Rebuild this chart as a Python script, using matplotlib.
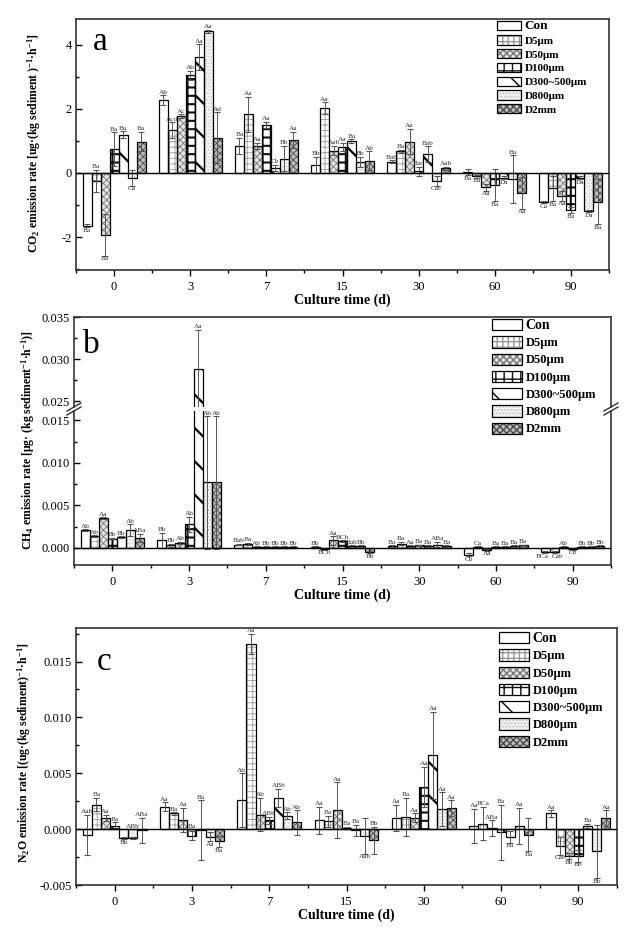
import numpy as np
import matplotlib
matplotlib.use("Agg")
import matplotlib.pyplot as plt
from matplotlib.ticker import AutoMinorLocator, MultipleLocator, FormatStrFormatter
from matplotlib.legend_handler import HandlerTuple

plt.rcParams['font.family'] = 'Liberation Serif'
plt.rcParams['mathtext.default'] = 'regular'
plt.rcParams['axes.unicode_minus'] = False

days = ['0', '3', '7', '15', '30', '60', '90']
treatments = ['Con', 'D5μm', 'D50μm', 'D100μm', 'D300~500μm', 'D800μm', 'D2mm']

# rows = culture day, columns = treatment
co2_mean = [
    [-1.65, -0.25, -1.93, 0.75, 1.20, -0.15, 0.98],
    [2.28, 1.33, 1.78, 3.05, 3.62, 4.42, 1.10],
    [0.85, 1.83, 0.85, 1.50, 0.15, 0.45, 1.03],
    [0.25, 2.03, 0.70, 0.82, 1.00, 0.35, 0.38],
    [0.35, 0.68, 0.98, 0.05, 0.58, -0.25, 0.15],
    [0.03, -0.10, -0.45, -0.38, -0.15, -0.20, -0.62],
    [-0.92, -0.48, -0.72, -1.15, -0.15, -1.20, -0.90],
]
co2_err = [
    [0.05, 0.35, 0.65, 0.52, 0.10, 0.25, 0.30],
    [0.15, 0.25, 0.05, 0.15, 0.40, 0.05, 0.80],
    [0.25, 0.55, 0.10, 0.10, 0.10, 0.40, 0.25],
    [0.25, 0.18, 0.15, 0.12, 0.05, 0.15, 0.30],
    [0.05, 0.05, 0.40, 0.15, 0.25, 0.15, 0.05],
    [0.10, 0.05, 0.10, 0.50, 0.05, 0.75, 0.50],
    [0.03, 0.40, 0.15, 0.10, 0.05, 0.03, 0.70],
]
co2_lab = [
    ['Ba', 'Ba', 'Ba', 'Ba', 'Ba', 'Ca', 'Ba'],
    ['Ab', 'Acd', 'Ac', 'Ab', 'Aa', 'Aa', 'Ad'],
    ['Ba', 'Aa', 'Aa', 'Aa', 'Cb', 'Bb', 'Aa'],
    ['Bb', 'Aa', 'Aab', 'Aa', 'Ba', 'Bb', 'Ab'],
    ['Bab', 'Ba', 'Aa', 'Bac', 'Bab', 'Cac', 'Aab'],
    ['Ba', 'Ba', 'Aa', 'Ba', 'Da', 'Ba', 'Aa'],
    ['Ca', 'Ba', 'Aa', 'Ba', 'Da', 'Da', 'Ba'],
]
co2_flip = [(0, 1), (5, 0), (5, 5)]

ch4_mean = [
    [0.0021, 0.0014, 0.0035, 0.0011, 0.0013, 0.0021, 0.0012],
    [0.0009, 0.0003, 0.0006, 0.0028, 0.0288, 0.0077, 0.0077],
    [0.0004, 0.0005, 0.0001, 0.0001, 0.0001, 0.0001, 0.0001],
    [0.0001, -0.0001, 0.0009, 0.0008, 0.0002, 0.0002, -0.0005],
    [0.0002, 0.0005, 0.0002, 0.0003, 0.0002, 0.0004, 0.0002],
    [-0.0008, 0.0001, -0.0002, 0.0001, 0.0001, 0.0002, 0.0003],
    [-0.0005, -0.0005, 0.0001, -0.0001, 0.0001, 0.0001, 0.0002],
]
ch4_err = [
    [0.0001, 0.0001, 0.0001, 0.0001, 0.0001, 0.0007, 0.0005],
    [0.0009, 0.0002, 0.0001, 0.0009, 0.0047, 0.0078, 0.0078],
    [0.0001, 0.0001, 0.0001, 0.0001, 0.0001, 0.0001, 0.0001],
    [0.0001, 0.0001, 0.0005, 0.0001, 0.0001, 0.0001, 0.0001],
    [0.0001, 0.0002, 0.0001, 0.0001, 0.0001, 0.0003, 0.0001],
    [0.0002, 0.0001, 0.0001, 0.0001, 0.0001, 0.0001, 0.0001],
    [0.0001, 0.0001, 0.0001, 0.0001, 0.0001, 0.0001, 0.0001],
]
ch4_lab = [
    ['Ab', 'Ab', 'Aa', 'Bb', 'Bb', 'Ab', 'ABa'],
    ['Bb', 'Bb', 'Ab', 'Ab', 'Aa', 'Ab', 'Ab'],
    ['Bab', 'Ba', 'Ab', 'Bb', 'Bb', 'Bb', 'Bb'],
    ['Bb', 'BCb', 'Aa', 'BCb', 'Bab', 'Bb', 'Bb'],
    ['Ba', 'Ba', 'Aa', 'Ba', 'Ba', 'ABa', 'Ba'],
    ['Cb', 'Ca', 'Aa', 'Ba', 'Ba', 'Ba', 'Ba'],
    ['BCa', 'Cab', 'Ab', 'Cb', 'Bb', 'Bb', 'Bb'],
]
ch4_flip = []

n2o_mean = [
    [-0.0005, 0.0022, 0.0010, 0.0003, -0.0008, -0.0008, -0.0001],
    [0.0020, 0.0014, 0.0008, -0.0006, -0.0001, -0.0007, -0.0011],
    [0.0026, 0.0166, 0.0013, 0.0008, 0.0028, 0.0012, 0.0006],
    [0.0008, 0.0007, 0.0017, 0.0001, -0.0001, -0.0006, -0.0010],
    [0.0010, 0.0011, 0.0010, 0.0038, 0.0066, 0.0018, 0.0019],
    [0.0003, 0.0005, 0.0001, -0.0003, -0.0007, 0.0003, -0.0005],
    [0.0014, -0.0015, -0.0024, -0.0024, 0.0003, -0.0020, 0.0010],
]
n2o_err = [
    [0.0018, 0.0006, 0.0003, 0.0003, 0.0001, 0.0001, 0.0011],
    [0.0004, 0.0001, 0.0011, 0.0004, 0.0027, 0.0004, 0.0005],
    [0.0024, 0.0009, 0.0015, 0.0003, 0.0008, 0.0003, 0.0011],
    [0.0012, 0.0005, 0.0025, 0.0001, 0.0005, 0.0016, 0.0012],
    [0.0012, 0.0017, 0.0004, 0.0018, 0.0039, 0.0015, 0.0007],
    [0.0015, 0.0015, 0.0007, 0.0025, 0.0005, 0.0016, 0.0015],
    [0.0003, 0.0008, 0.0003, 0.0005, 0.0002, 0.0024, 0.0007],
]
n2o_lab = [
    ['Aab', 'Ba', 'Aa', 'Ba', 'Bb', 'ABb', 'ABa'],
    ['Aa', 'Ba', 'Aa', 'Ba', 'Ba', 'Aa', 'Ba'],
    ['Ab', 'Aa', 'Ab', 'ABb', 'ABb', 'Ab', 'Ab'],
    ['Aa', 'Ba', 'Aa', 'Ba', 'Ba', 'Aab', 'Bb'],
    ['Aa', 'Ba', 'Aa', 'Aa', 'Aa', 'Aa', 'Aa'],
    ['Aa', 'BCa', 'ABa', 'Ba', 'Ba', 'Aa', 'Ba'],
    ['Aa', 'Cab', 'Bb', 'Bb', 'Ba', 'Bb', 'Aa'],
]
n2o_flip = [(0, 0), (0, 5), (0, 6), (1, 3), (1, 4), (3, 4), (3, 6), (5, 3)]

W, H = 641, 944
BAR_W = 0.118

# face colour, hatch colour, hatch, hatch linewidth
styles = [
    ('white', 'white', None, 0.6),
    ('white', '#9a9a9a', '+++', 0.6),
    ('#e4e4e4', '#777777', 'xxxxx', 0.6),
    ('white', '#111111', '++', 1.5),
    ('white', 'black', '\\', 1.6),
    ('#f3f3f3', '#c4c4c4', '.....', 0.5),
    ('#bdbdbd', '#4a4a4a', 'xxxxx', 0.6),
]

fig = plt.figure(figsize=(W / 100, H / 100), dpi=100)


def add_ax(left, top, right, bottom):
    return fig.add_axes([left / W, 1 - bottom / H, (right - left) / W, (bottom - top) / H])


def draw_bars(ax, mean, err):
    handles = []
    x0 = np.arange(len(days))
    for j in range(len(treatments)):
        xs = x0 + (j - 3) * BAR_W
        vals = [row[j] for row in mean]
        errs = [row[j] for row in err]
        face, hcol, hatch, hlw = styles[j]
        with plt.rc_context({'hatch.linewidth': hlw}):
            fill = ax.bar(xs, vals, BAR_W, color=face, edgecolor=hcol,
                          hatch=hatch, linewidth=0, zorder=2)
        edge = ax.bar(xs, vals, BAR_W, fill=False, edgecolor='black',
                      linewidth=0.9, zorder=3)
        ax.errorbar(xs, vals, yerr=errs, fmt='none', ecolor='#555555',
                    elinewidth=0.7, capsize=2, capthick=0.8, zorder=4)
        handles.append((fill, edge))
    ax.axhline(0, color='black', lw=1.0, zorder=5)
    return handles


def draw_letters(ax, mean, err, labels, flips, keep=None, nudge=None):
    nudge = nudge or {}
    for i in range(len(days)):
        for j in range(len(treatments)):
            v, e = mean[i][j], err[i][j]
            up = (v >= 0) != ((i, j) in flips)
            if up:
                y, va, dy = max(v + e, 0), 'bottom', 0.4
            else:
                y, va, dy = min(v - e, 0), 'top', -0.4
            if keep is not None and not keep(y):
                continue
            ax.annotate(labels[i][j], (i + (j - 3) * BAR_W, y),
                        xytext=(nudge.get((i, j), 0), dy),
                        textcoords='offset points', ha='center', va=va,
                        fontsize=5.2, color='#333333', zorder=6)


def style_ax(ax, show_x=True):
    ax.set_xlim(-0.5, 6.5)
    ax.set_xticks(range(len(days)))
    ax.xaxis.set_minor_locator(MultipleLocator(0.5))
    ax.yaxis.set_minor_locator(AutoMinorLocator(2))
    ax.tick_params(axis='x', which='major', direction='out', length=4, width=1,
                   labelsize=9, pad=4)
    ax.tick_params(axis='x', which='minor', direction='out', length=2.5, width=1)
    ax.tick_params(axis='y', which='major', direction='in', length=4, width=1,
                   labelsize=9, pad=3)
    ax.tick_params(axis='y', which='minor', direction='in', length=2.5, width=1)
    if show_x:
        ax.set_xticklabels(days)
        ax.set_xlabel('Culture time (d)', fontsize=10, fontweight='bold', labelpad=0)
    else:
        ax.tick_params(axis='x', which='both', bottom=False, labelbottom=False)
    for s in ax.spines.values():
        s.set_linewidth(1.2)
        s.set_color('#333333')


def add_legend(handles, x, y, size, con_size, spacing, hl, hh):
    leg = fig.legend(handles, treatments,
                     handler_map={tuple: HandlerTuple(ndivide=1, pad=0)},
                     loc='upper left', bbox_to_anchor=(x / W, 1 - y / H),
                     frameon=False, prop={'weight': 'bold', 'size': size},
                     handlelength=hl, handleheight=hh, handletextpad=0.3,
                     labelspacing=spacing, borderpad=0, borderaxespad=0)
    leg.get_texts()[0].set_fontsize(con_size)


# ---- a: CO2 ----
ax_a = add_ax(76, 19, 609, 270)
h = draw_bars(ax_a, co2_mean, co2_err)
draw_letters(ax_a, co2_mean, co2_err, co2_lab, co2_flip)
ax_a.set_ylim(-3.03, 4.81)
ax_a.set_yticks([-2, 0, 2, 4])
style_ax(ax_a)
add_legend(h, 497, 20, 8, 9.5, 0.3, 2.2, 0.9)
fig.text(93 / W, 1 - 50 / H, 'a', fontsize=24, va='baseline')
fig.text(34 / W, 1 - 143 / H,
         'CO$_2$ emission rate [ug·(kg sediment )$^{-1}$·h$^{-1}$]',
         rotation=90, ha='center', va='center', fontsize=8.5, fontweight='bold')

# ---- b: CH4 (broken axis) ----
ax_bu = add_ax(74, 317, 611, 407)
ax_bl = add_ax(74, 411, 611, 565)
h = draw_bars(ax_bu, ch4_mean, ch4_err)
draw_bars(ax_bl, ch4_mean, ch4_err)
draw_letters(ax_bu, ch4_mean, ch4_err, ch4_lab, ch4_flip, keep=lambda y: y > 0.02)
draw_letters(ax_bl, ch4_mean, ch4_err, ch4_lab, ch4_flip, keep=lambda y: y <= 0.02,
             nudge={(6, 0): -2.5, (6, 1): 2.5})
ax_bu.set_ylim(0.0243, 0.035)
ax_bu.set_yticks([0.025, 0.030, 0.035])
ax_bl.set_ylim(-0.002, 0.0161)
ax_bl.set_yticks([0.0, 0.005, 0.010, 0.015])
style_ax(ax_bu, show_x=False)
style_ax(ax_bl)
for a_ in (ax_bu, ax_bl):
    a_.yaxis.set_major_formatter(FormatStrFormatter('%.3f'))
ax_bu.spines['bottom'].set_visible(False)
ax_bl.spines['top'].set_visible(False)
for xp in (74, 611):
    for yp in (407, 411):
        fig.add_artist(plt.Line2D([(xp - 7) / W, (xp + 7) / W],
                                  [1 - (yp + 4) / H, 1 - (yp - 4) / H],
                                  color='#333333', lw=1.0))
add_legend(h, 492, 319, 9, 10, 0.35, 2.4, 1.0)
fig.text(83 / W, 1 - 353 / H, 'b', fontsize=24, va='baseline')
fig.text(28 / W, 1 - 440 / H,
         'CH$_4$ emission rate [μg· (kg sediment$^{-1}$·h$^{-1}$)]',
         rotation=90, ha='center', va='center', fontsize=8.5, fontweight='bold')

# ---- c: N2O ----
ax_c = add_ax(76, 628, 617, 885)
h = draw_bars(ax_c, n2o_mean, n2o_err)
draw_letters(ax_c, n2o_mean, n2o_err, n2o_lab, n2o_flip)
ax_c.set_ylim(-0.005, 0.018)
ax_c.set_yticks([-0.005, 0.0, 0.005, 0.010, 0.015])
ax_c.yaxis.set_major_formatter(FormatStrFormatter('%.3f'))
style_ax(ax_c)
add_legend(h, 499, 632, 9, 10, 0.35, 2.4, 1.0)
fig.text(97 / W, 1 - 670 / H, 'c', fontsize=24, va='baseline')
fig.text(24 / W, 1 - 753 / H,
         'N$_2$O emission rate [(ug·(kg sediment)$^{-1}$·h$^{-1}$]',
         rotation=90, ha='center', va='center', fontsize=8.5, fontweight='bold')

fig.savefig('out.png', dpi=100)
